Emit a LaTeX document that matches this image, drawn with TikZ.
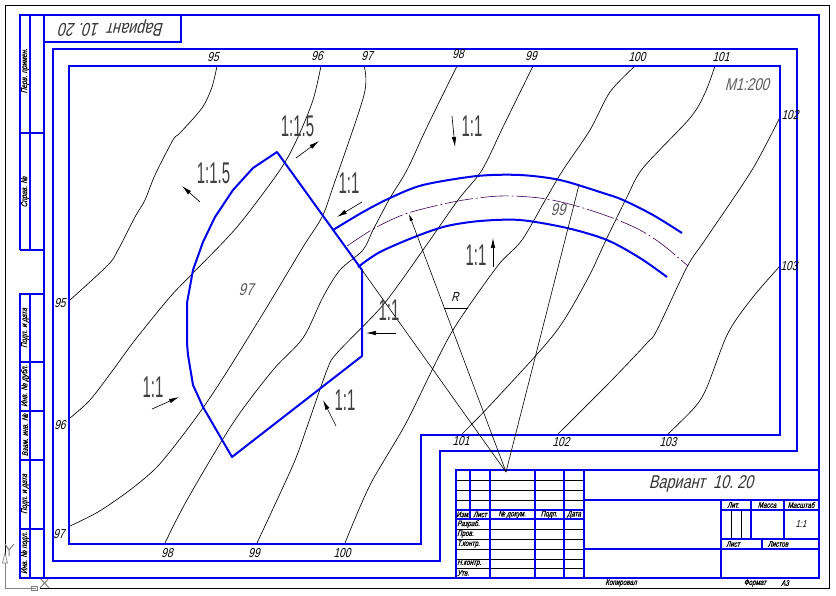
\documentclass[tikz,border=0pt]{standalone}
\usepackage{fontspec}
\setmainfont{Liberation Sans}
\newfontfamily\gost[FakeStretch=0.78,FakeSlant=0.25]{Liberation Sans}
\newfontfamily\gostb[FakeStretch=0.78,FakeSlant=0.25,FakeBold=0.6]{Liberation Sans}
\newfontfamily\slope[FakeStretch=0.5]{Liberation Sans}
\usetikzlibrary{arrows.meta}
\definecolor{bl}{RGB}{0,0,235}
\definecolor{pur}{RGB}{60,0,90}
\tikzset{
  thickb/.style={draw=bl,line width=1.9pt},
  thinb/.style={draw=black,line width=0.6pt},
  contour/.style={draw=black,line width=0.65pt,smooth,tension=0.5},
  road/.style={draw=bl,line width=2pt,smooth,tension=0.5,line join=round},
  outline/.style={draw=bl,line width=2pt,line join=round},
  tick/.style={draw=black,line width=0.65pt,-{Latex[length=10pt,width=4.5pt]}},
  gtext/.style={font=\gostb\fontsize{8.5}{8.5}\selectfont,inner sep=0pt,text=black},
  small/.style={font=\gostb\fontsize{8}{8}\selectfont,inner sep=0pt,text=black},
  num/.style={font=\gost\fontsize{13}{13}\selectfont,inner sep=0pt,text=black},
  titletxt/.style={font=\gost\fontsize{18.5}{18.5}\selectfont,inner sep=0pt,text=black!80},
  slopetxt/.style={font=\slope\fontsize{30}{30}\selectfont,inner sep=0pt,text=black!75},
  graytxt/.style={font=\gost\fontsize{17}{17}\selectfont,inner sep=0pt,text=black!65},
}
\begin{document}
\begin{tikzpicture}[x=1pt,y=-1pt]
\useasboundingbox (0,0) rectangle (836,595);
\fill[white] (0,0) rectangle (836,595);
% sheet edge
\draw[thinb,line width=0.9pt] (5,555) -- (5,5) -- (829,5) -- (829,588) -- (40,588);
% axes
\draw[gray,line width=0.7pt] (5,563) -- (5,588) -- (36,588);
\draw[gray,line width=0.7pt] (5,553) -- (2.5,563) -- (7.5,563) -- cycle;
\draw[gray,line width=0.7pt] (31,586) rectangle (37,590);
\draw[gray,line width=1pt] (5,544) -- (9,550) -- (14,544) (9,550) -- (9,556);
\draw[gray,line width=1pt] (40,578) -- (49,588) (49,578) -- (40,588);
% contours
\draw[contour] plot coordinates {(217,66) (212,87) (202,108) (180,133) (173,140) (155,175) (145,200) (135,217) (118,250) (108,265) (70,300)};
\draw[contour] plot coordinates {(321,66) (313,100) (298,137) (280,170) (237,227) (193,273) (170,297) (135,340) (113,370) (90,400) (70,418)};
\draw[contour] plot coordinates {(364,66) (364,95) (333,187) (322,217) (303,247) (267,307) (228,370) (205,405) (183,435) (157,467) (130,490) (98,512) (70,526)};
\draw[contour] plot coordinates {(457,66) (427,127) (407,170) (390,198) (373,230) (363,250) (340,270) (323,297) (303,338) (273,370) (233,423) (187,500) (165,543)};
\draw[contour] plot coordinates {(533,66) (503,127) (482,170) (458,200) (423,250) (383,305) (337,353) (327,370) (307,427) (293,465) (257,543)};
\draw[contour] plot coordinates {(635,66) (610,92) (590,130) (563,170) (547,197) (522,240) (500,263) (473,300) (453,330) (437,360) (405,425) (370,485) (345,543)};
\draw[contour] plot coordinates {(715,66) (705,93) (690,118) (643,168) (627,197) (606,240) (587,280) (555,333) (495,400) (462,434)};
\draw[contour] plot coordinates {(780,117) (752,170) (705,240) (687,267) (657,330) (647,343) (610,382) (558,434)};
\draw[contour] plot coordinates {(780,266) (753,297) (728,333) (707,387) (695,407) (668,434)};
% frames
\draw[thickb] (20,250) -- (44,250) (20,250) -- (20,15) -- (819,15) -- (819,578) -- (20,578) -- (20,294) -- (44,294);
\draw[thickb] (30,15) -- (30,250);
\draw[thickb] (20,133) -- (44,133);
\draw[thickb] (44,15) -- (44,578);
\draw[thickb] (181,15) -- (181,42) -- (44,42);
\draw[thickb] (30,294) -- (30,578);
\draw[thickb] (20,362) -- (44,362) (20,411) -- (44,411) (20,460) -- (44,460) (20,529) -- (44,529);
\draw[thickb] (53,561) -- (53,49) -- (797,49) -- (797,451) -- (440,451) -- (440,561) -- cycle;
\draw[thickb] (69,544) -- (69,66) -- (780,66) -- (780,435) -- (421,435) -- (421,544) -- cycle;
% title block
\draw[thinb] (456,480) -- (584,480) (456,490) -- (584,490) (456,500) -- (584,500) (456,529) -- (584,529) (456,539) -- (584,539) (456,549) -- (584,549) (456,559) -- (584,559) (456,568) -- (584,568);
\draw[thinb] (731,510) -- (731,539) (741,510) -- (741,539);
\draw[thickb] (456,578) -- (456,470) -- (819,470);
\draw[thickb] (470,470) -- (470,519) (490,470) -- (490,578) (535,470) -- (535,578) (564,470) -- (564,578) (584,470) -- (584,578);
\draw[thickb] (584,500) -- (819,500) (456,510) -- (584,510) (721,510) -- (819,510) (456,519) -- (584,519);
\draw[thickb] (584,549) -- (819,549) (721,539) -- (819,539) (721,500) -- (721,578) (751,500) -- (751,539) (784,500) -- (784,539) (762,539) -- (762,549);
% road
\draw[draw=pur,line width=0.6pt,dash pattern=on 28pt off 3pt on 2pt off 3pt,smooth,tension=0.5] plot coordinates {(347,246) (375,228) (408,213) (458,201) (500,196) (540,198) (573,205) (610,217) (640,230) (663,245) (688,266)};
\draw[road] plot coordinates {(333,230) (363,212) (390,198) (423,185) (477,176) (520,175) (560,180) (603,193) (623,200) (653,215) (682,233)};
\draw[road] plot coordinates {(358,267) (380,252) (417,236) (447,226) (480,221) (520,220) (567,228) (607,240) (640,258) (667,277)};
% pit outline
\draw[outline] (232,457) -- (203,407) -- (193,385) -- (188,355) -- (187,343) -- (187,303) -- (193,270) -- (203,242) -- (215,217) -- (233,190) -- (253,168) -- (277,152) -- (362,270) -- (362,356) -- cycle;
% leaders
\coordinate (apex) at (506,472);
\coordinate (c1) at (409,214);
\coordinate (c2) at (579,185);
\coordinate (c3) at (362,270);
\coordinate (r1) at (444,308);
\coordinate (r2) at (468,308);
\draw[thinb,-{Latex[length=7pt,width=3.5pt]}] (apex) -- (c1);
\draw[thinb] (apex) -- (c2);
\draw[thinb] (apex) -- (c3);
\draw[thinb] (r1) -- (r2);
% slope ticks
\draw[tick] (200,202) -- (182,186);
\draw[tick] (296,158) -- (319,141);
\draw[tick] (362,202) -- (337,217);
\draw[tick] (452,116) -- (455,147);
\draw[tick] (493,267) -- (493,238);
\draw[tick] (396,333) -- (366,333);
\draw[tick] (152,409) -- (179,397);
\draw[tick] (336,426) -- (323,400);
% slope labels
\node[slopetxt] (s1) at (297.5,126) {1:1.5};
\node[slopetxt] (s2) at (213.5,173) {1:1.5};
\node[slopetxt] (s3) at (349,183) {1:1};
\node[slopetxt] (s4) at (472,126) {1:1};
\node[slopetxt] (s5) at (476,255) {1:1};
\node[slopetxt] (s6) at (389,310) {1:1};
\node[slopetxt] (s7) at (153,387) {1:1};
\node[slopetxt] (s8) at (345,400.5) {1:1};
% contour numbers
\node[num] (t95) at (213,57) {95};
\node[num] (t96) at (317,56) {96};
\node[num] (t97) at (367,56) {97};
\node[num] (t98) at (458,54) {98};
\node[num] (t99) at (531,56) {99};
\node[num] (t100) at (637,57) {100};
\node[num] (t101) at (721,57) {101};
\node[num] (t102) at (790,115) {102};
\node[num] (t103) at (789,266) {103};
\node[num] (b101) at (461,441) {101};
\node[num] (b102) at (561,442) {102};
\node[num] (b103) at (668,442) {103};
\node[num] (l95) at (60,303) {95};
\node[num] (l96) at (60,425) {96};
\node[num] (l97) at (59,534) {97};
\node[num] (b98) at (167,553) {98};
\node[num] (b99) at (254,553) {99};
\node[num] (b100) at (342,553) {100};
\node[num] (rlab) at (455,297) {R};
\node[graytxt] (g97) at (246,290) {97};
\node[graytxt] (g99) at (558,210) {99};
\node[graytxt] (scale) at (747,85) {M1:200};
% titles
\node[titletxt] (tt) at (701,484) {Вариант\ \ 10.\ 20};
\node[titletxt,rotate=180] (tr) at (112,28) {Вариант\ \ 10.\ 20};
% side strip
\node[gtext,rotate=90] (a1) at (25,71) {Перв. примен.};
\node[gtext,rotate=90] (a2) at (25,192) {Справ. №};
\node[gtext,rotate=90] (a3) at (25,328) {Подп. и дата};
\node[gtext,rotate=90] (a4) at (25,386) {Инв. № дубл.};
\node[gtext,rotate=90] (a5) at (25,435) {Взам. инв. №};
\node[gtext,rotate=90] (a6) at (25,494) {Подп. и дата};
\node[gtext,rotate=90] (a7) at (25,553) {Инв. № подл.};
% block text
\node[small] (h1) at (463,514.5) {Изм.};
\node[small] (h2) at (480,514.5) {Лист};
\node[small] (h3) at (512,514.5) {№ докум.};
\node[small] (h4) at (549,514.5) {Подп.};
\node[small] (h5) at (574,514.5) {Дата};
\node[small,anchor=west] (r1t) at (457,524) {Разраб.};
\node[small,anchor=west] (r2t) at (457,534) {Пров.};
\node[small,anchor=west] (r3t) at (457,544) {Т.контр.};
\node[small,anchor=west] (r4t) at (457,563) {Н.контр.};
\node[small,anchor=west] (r5t) at (457,573) {Утв.};
\node[small] (k1) at (733,505) {Лит.};
\node[small] (k2) at (767,505) {Масса};
\node[small] (k3) at (801,505) {Масштаб};
\node[gtext,font=\gost\fontsize{10}{10}\selectfont] (k4) at (801,524) {1:1};
\node[small] (k5) at (733,544) {Лист};
\node[small] (k6) at (778,544) {Листов};
\node[small] (f1) at (621,583) {Копировал};
\node[small] (f2) at (755,583) {Формат};
\node[small] (f3) at (785,583) {А3};
\end{tikzpicture}
\end{document}
